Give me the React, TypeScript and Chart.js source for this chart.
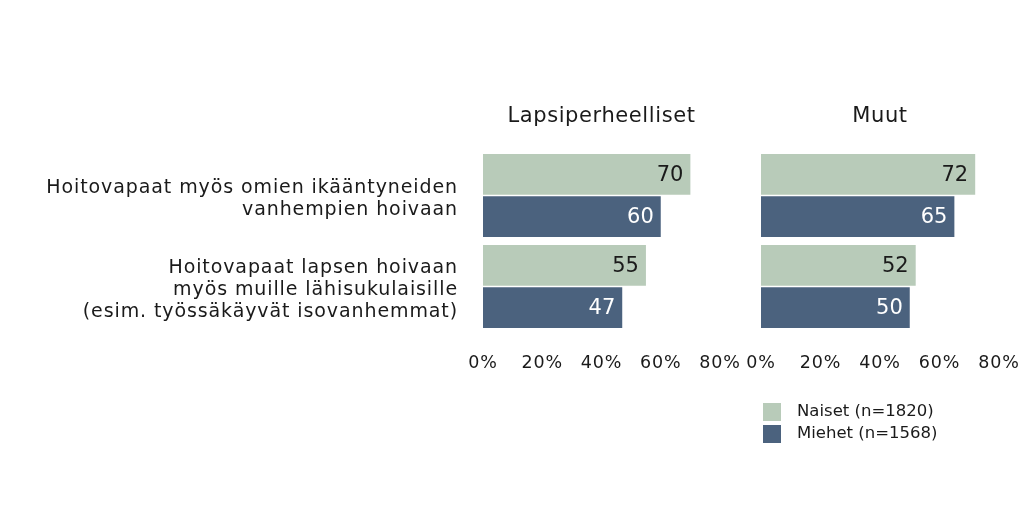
import React, { useEffect, useRef } from "react";
import { Chart, registerables } from "chart.js";

Chart.register(...registerables);

const categories: string[][] = [
  ["Hoitovapaat myös omien ikääntyneiden", "vanhempien hoivaan"],
  ["Hoitovapaat lapsen hoivaan", "myös muille lähisukulaisille", "(esim. työssäkäyvät isovanhemmat)"],
];
const panelTitles = ["Lapsiperheelliset", "Muut"];
const seriesLabels = ["Naiset (n=1820)", "Miehet (n=1568)"];
const naisetLapsiperheelliset = [70, 55];
const miehetLapsiperheelliset = [60, 47];
const naisetMuut = [72, 52];
const miehetMuut = [65, 50];
const xTicks = [0, 20, 40, 60, 80];

const GREEN = "#b8cbb9";
const BLUE = "#4b627e";
const FONT = "'DejaVu Sans', 'Noto Sans', sans-serif";
const SPACING = "0.9px";

const spacingPlugin = {
  id: "letterSpacing",
  beforeUpdate(chart: any) {
    chart.ctx.letterSpacing = SPACING;
  },
  beforeLayout(chart: any) {
    chart.ctx.letterSpacing = SPACING;
  },
  beforeDraw(chart: any) {
    chart.ctx.letterSpacing = SPACING;
  },
};

const valueLabelPlugin = {
  id: "valueLabels",
  afterDatasetsDraw(chart: any) {
    const ctx = chart.ctx;
    ctx.save();
    ctx.letterSpacing = "0px";
    ctx.font = `21px ${FONT}`;
    ctx.textAlign = "right";
    ctx.textBaseline = "middle";
    chart.data.datasets.forEach((ds: any, di: number) => {
      const meta = chart.getDatasetMeta(di);
      meta.data.forEach((bar: any, i: number) => {
        ctx.fillStyle = ds.labelColor;
        ctx.fillText(String(ds.data[i]), bar.x - 7, bar.y + 1);
      });
    });
    ctx.restore();
  },
};

const panelTitlePlugin = {
  id: "panelTitle",
  afterDraw(chart: any, _args: any, opts: any) {
    const ctx = chart.ctx;
    const a = chart.chartArea;
    ctx.save();
    ctx.letterSpacing = "0.6px";
    ctx.font = `21px ${FONT}`;
    ctx.fillStyle = "#1a1a1a";
    ctx.textAlign = "center";
    ctx.textBaseline = "middle";
    ctx.fillText(opts.text, (a.left + a.right) / 2, a.top - 33);
    ctx.restore();
  },
};

const legendPlugin = {
  id: "customLegend",
  afterDraw(chart: any, _args: any, opts: any) {
    if (!opts.show) return;
    const ctx = chart.ctx;
    ctx.save();
    ctx.letterSpacing = "0px";
    ctx.font = `16.5px ${FONT}`;
    ctx.textBaseline = "middle";
    ctx.textAlign = "left";
    chart.data.datasets.forEach((ds: any, i: number) => {
      const y = 403 + i * 22;
      ctx.fillStyle = ds.backgroundColor;
      ctx.fillRect(23, y, 18, 18);
      ctx.fillStyle = "#1a1a1a";
      ctx.fillText(ds.label, 57, y + 9);
    });
    ctx.restore();
  },
};

function makeConfig(naiset: number[], miehet: number[], title: string, showY: boolean, padLeft: number, padRight: number, showLegend: boolean): any {
  return {
    type: "bar",
    data: {
      labels: categories,
      datasets: [
        { label: seriesLabels[0], data: naiset, backgroundColor: GREEN, labelColor: "#1a1a1a", categoryPercentage: 0.93, barPercentage: 0.96 },
        { label: seriesLabels[1], data: miehet, backgroundColor: BLUE, labelColor: "#ffffff", categoryPercentage: 0.93, barPercentage: 0.96 },
      ],
    },
    options: {
      indexAxis: "y",
      animation: false,
      responsive: false,
      layout: { padding: { top: 150, left: padLeft, right: padRight, bottom: 0 } },
      plugins: {
        legend: { display: false },
        tooltip: { enabled: false },
        panelTitle: { text: title },
        customLegend: { show: showLegend },
      },
      scales: {
        x: {
          min: 0,
          max: 80,
          grid: { display: false, drawTicks: false },
          border: { display: false },
          afterBuildTicks: (s: any) => {
            s.ticks = xTicks.map((v) => ({ value: v }));
          },
          afterFit: (s: any) => {
            s.height = 180;
            s.paddingLeft = 0;
            s.paddingRight = 0;
          },
          ticks: {
            padding: 21,
            color: "#1a1a1a",
            font: { family: FONT, size: 17.5 },
            callback: (v: any) => v + "%",
            maxRotation: 0,
            autoSkip: false,
          },
        },
        y: {
          display: showY,
          grid: { display: false, drawTicks: false },
          border: { display: false },
          afterFit: (s: any) => {
            if (showY) s.width = 483;
          },
          ticks: {
            padding: 25,
            labelOffset: 4,
            color: "#1a1a1a",
            font: { family: FONT, size: 19, lineHeight: 1.16 },
          },
        },
      },
    },
    plugins: [spacingPlugin, valueLabelPlugin, panelTitlePlugin, legendPlugin],
  };
}

function Panel(props: { left: number; width: number; config: any }) {
  const ref = useRef<HTMLCanvasElement | null>(null);
  useEffect(() => {
    const chart = new Chart(ref.current as HTMLCanvasElement, props.config);
    return () => chart.destroy();
  }, []);
  return (
    <canvas
      ref={ref}
      width={props.width}
      height={512}
      style={{ position: "absolute", left: props.left, top: 0, width: props.width, height: 512 }}
    />
  );
}

export default function App() {
  const left = makeConfig(naisetLapsiperheelliset, miehetLapsiperheelliset, panelTitles[0], true, 0, 20, false);
  const right = makeConfig(naisetMuut, miehetMuut, panelTitles[1], false, 21, 25, true);
  return (
    <div style={{ position: "fixed", left: 0, top: 0, width: 1024, height: 512, background: "#fff", overflow: "hidden" }}>
      <Panel left={0} width={740} config={left} />
      <Panel left={740} width={284} config={right} />
    </div>
  );
}
